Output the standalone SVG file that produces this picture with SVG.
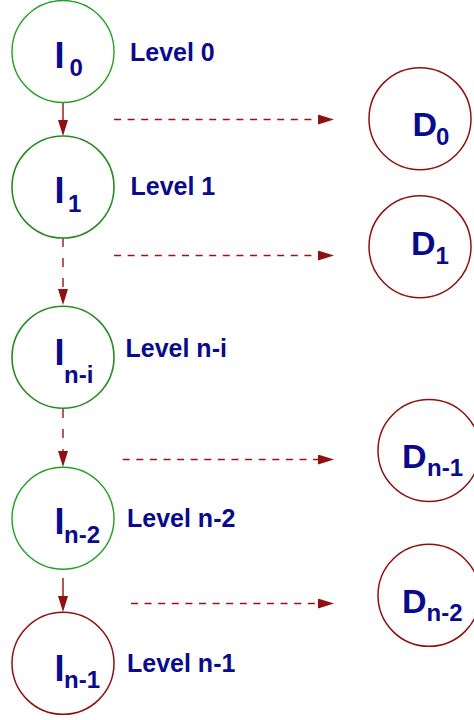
<svg xmlns="http://www.w3.org/2000/svg" width="474" height="720" viewBox="0 0 474 720">
<style>
.g1{fill:#fff;stroke:#22a022;stroke-width:1.4}
.g2{fill:#fff;stroke:#2a8a22;stroke-width:1.6}
.r{fill:#fff;stroke:#8f1010;stroke-width:1.5}
.big{font-family:"Liberation Sans",Arial,sans-serif;font-weight:bold;font-size:36px;fill:#0a0a8c}
.dbig{font-family:"Liberation Sans",Arial,sans-serif;font-weight:bold;font-size:34px;fill:#0a0a8c}
.sub{font-family:"Liberation Sans",Arial,sans-serif;font-weight:bold;font-size:24px;fill:#0a0a8c}
.lbl{font-family:"Liberation Sans",Arial,sans-serif;font-weight:bold;font-size:25px;fill:#0a0a8c}
.solid{stroke:#8f1010;stroke-width:1.4;fill:none}
.dv{stroke:#9a1515;stroke-width:1.4;fill:none;stroke-dasharray:9 11}
.dh{stroke:#9a1414;stroke-width:1.3;fill:none;stroke-dasharray:7 6.6}
</style>
<defs>
<marker id="ah" markerUnits="userSpaceOnUse" markerWidth="16" markerHeight="10" refX="8" refY="5" orient="auto" viewBox="0 0 16 10">
<path d="M0,0 L16,5 L0,10 z" fill="#8f1010"/>
</marker>
</defs>
<g id="connectors">
<path class="solid" d="M63,102 L63,128" marker-end="url(#ah)"/>
<path class="dv" d="M63,238 L63,297" marker-end="url(#ah)"/>
<path class="dv" d="M63,409 L63,459" marker-end="url(#ah)"/>
<path class="solid" d="M63,578 L63,604" marker-end="url(#ah)"/>
<path class="dh" d="M114,119.5 L326,119.5" marker-end="url(#ah)"/>
<path class="dh" d="M114,255.5 L326,255.5" marker-end="url(#ah)"/>
<path class="dh" d="M122.7,459.5 L326,459.5" marker-end="url(#ah)"/>
<path class="dh" d="M131,603.5 L326,603.5" marker-end="url(#ah)"/>
</g>
<g id="I0">
<circle class="g1" cx="63" cy="51.5" r="51"/>
<text class="big" x="54.5" y="67.5">I</text>
<text class="sub" x="69.5" y="76">0</text>
<text class="lbl" x="130" y="61">Level 0</text>
</g>
<g id="I1">
<circle class="g2" cx="63" cy="187" r="51"/>
<text class="big" x="54.5" y="203">I</text>
<text class="sub" x="68" y="212.3">1</text>
<text class="lbl" x="130.5" y="195">Level 1</text>
</g>
<g id="Ini">
<circle class="g2" cx="63" cy="357.2" r="51"/>
<text class="big" x="54.5" y="365">I</text>
<text class="sub" x="64" y="383">n-i</text>
<text class="lbl" x="125.5" y="356.7">Level n-i</text>
</g>
<g id="In2">
<circle class="g1" cx="63" cy="518.3" r="51"/>
<text class="big" x="54.5" y="534">I</text>
<text class="sub" x="64" y="543.3">n-2</text>
<text class="lbl" x="127" y="526.7">Level n-2</text>
</g>
<g id="In1">
<circle class="r" cx="63" cy="663.3" r="51"/>
<text class="big" x="54.5" y="680.7">I</text>
<text class="sub" x="64" y="688.3">n-1</text>
<text class="lbl" x="127" y="671.7">Level n-1</text>
</g>
<g id="D0">
<circle class="r" cx="420" cy="118.7" r="51"/>
<text class="dbig" x="412.5" y="136">D</text>
<text class="sub" x="436" y="145">0</text>
</g>
<g id="D1">
<circle class="r" cx="420" cy="246.7" r="51"/>
<text class="dbig" x="411" y="255">D</text>
<text class="sub" x="435.5" y="264">1</text>
</g>
<g id="Dn1">
<circle class="r" cx="429" cy="450.5" r="51"/>
<text class="dbig" x="402" y="468.3">D</text>
<text class="sub" x="427" y="476">n-1</text>
</g>
<g id="Dn2">
<circle class="r" cx="429" cy="595.3" r="51"/>
<text class="dbig" x="402" y="612.7">D</text>
<text class="sub" x="426.5" y="620.7">n-2</text>
</g>
</svg>
